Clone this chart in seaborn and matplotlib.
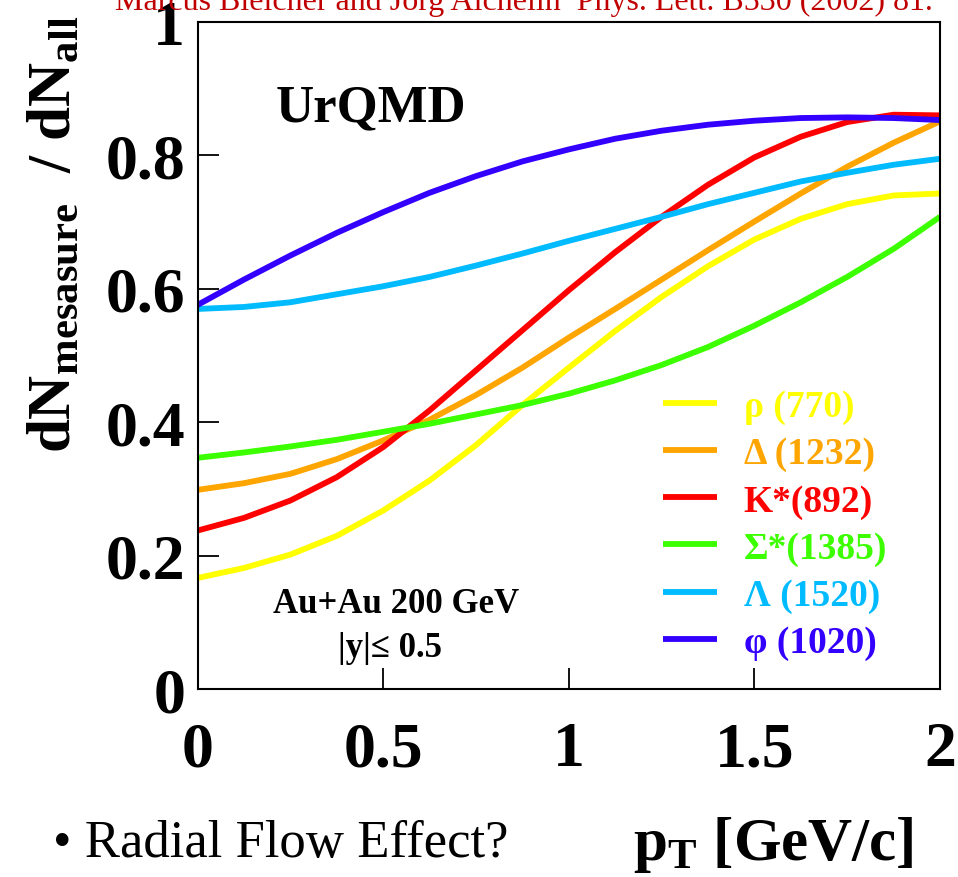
import numpy as np
import pandas as pd
import matplotlib
matplotlib.use("Agg")
import matplotlib.pyplot as plt
from matplotlib.font_manager import FontProperties
import seaborn as sns

# ---- data ----
pt = [0.0, 0.125, 0.25, 0.375, 0.5, 0.625, 0.75, 0.875, 1.0,
      1.125, 1.25, 1.375, 1.5, 1.625, 1.75, 1.875, 2.0]
rho = [0.167, 0.182, 0.202, 0.230, 0.268, 0.313, 0.366, 0.426, 0.482,
       0.537, 0.588, 0.634, 0.674, 0.705, 0.727, 0.740, 0.743]
delta = [0.299, 0.309, 0.323, 0.345, 0.373, 0.404, 0.441, 0.482, 0.527,
         0.570, 0.614, 0.658, 0.701, 0.743, 0.783, 0.819, 0.851]
kstar = [0.238, 0.257, 0.283, 0.318, 0.363, 0.418, 0.478, 0.538, 0.598,
         0.655, 0.708, 0.756, 0.797, 0.828, 0.850, 0.861, 0.860]
sigma = [0.347, 0.355, 0.364, 0.374, 0.386, 0.398, 0.412, 0.426, 0.443,
         0.463, 0.486, 0.513, 0.545, 0.580, 0.618, 0.660, 0.708]
lam = [0.570, 0.573, 0.580, 0.592, 0.604, 0.618, 0.635, 0.653, 0.672,
       0.690, 0.708, 0.727, 0.744, 0.761, 0.774, 0.786, 0.795]
phi = [0.576, 0.614, 0.650, 0.684, 0.715, 0.744, 0.769, 0.791, 0.809,
       0.825, 0.837, 0.846, 0.852, 0.856, 0.857, 0.856, 0.853]

labels = ["ρ (770)", "Δ (1232)", "K*(892)", "Σ*(1385)", "Λ (1520)", "φ (1020)"]
colors = ["#FFFF00", "#FFA500", "#FF0000", "#3CFF00", "#00BBFF", "#3300FF"]
series = [rho, delta, kstar, sigma, lam, phi]

xticks = [0, 0.5, 1, 1.5, 2]
xtick_labels = ["0", "0.5", "1", "1.5", "2"]
yticks = [0, 0.2, 0.4, 0.6, 0.8, 1.0]
ytick_labels = ["0", "0.2", "0.4", "0.6", "0.8", "1"]

# ---- style ----
sns.set_style("ticks")
plt.rcParams["font.family"] = ["Liberation Serif", "DejaVu Serif"]
plt.rcParams["mathtext.fontset"] = "custom"
plt.rcParams["mathtext.rm"] = "Liberation Serif"
plt.rcParams["mathtext.bf"] = "Liberation Serif:bold"
plt.rcParams["mathtext.it"] = "Liberation Serif:italic"
for key in ["text.color", "axes.labelcolor", "xtick.color", "ytick.color",
            "axes.edgecolor"]:
    plt.rcParams[key] = "black"

df = pd.DataFrame({
    "pt": np.tile(pt, len(labels)),
    "ratio": np.concatenate(series),
    "particle": np.repeat(labels, len(pt)),
})

fig = plt.figure(figsize=(9.58, 8.78), dpi=100)
ax = fig.add_axes([0.2062, 0.2136, 0.7750, 0.7603])

sns.lineplot(data=df, x="pt", y="ratio", hue="particle", hue_order=labels,
             palette=dict(zip(labels, colors)), linewidth=4.2, ax=ax,
             legend=True, sort=True, solid_joinstyle="round",
             solid_capstyle="butt")

ax.set_xlim(0, 2)
ax.set_ylim(0, 1)
ax.set_xticks(xticks)
ax.set_xticklabels(xtick_labels)
ax.set_yticks(yticks)
ax.set_yticklabels(ytick_labels)
ax.set_xlabel("")
ax.set_ylabel("")
for s in ax.spines.values():
    s.set_visible(True)
    s.set_linewidth(1.5)
    s.set_color("black")
ax.tick_params(axis="both", direction="in", length=15, width=1.3,
               labelsize=46, top=False, right=False, colors="black")
ax.tick_params(axis="x", pad=23)
ax.tick_params(axis="y", pad=9)
for lab in ax.get_xticklabels() + ax.get_yticklabels():
    lab.set_fontweight("bold")

# legend
handles, labs = ax.get_legend_handles_labels()
leg = ax.legend(handles, labs, loc="center left", bbox_to_anchor=(0.627, 0.247),
                frameon=False, prop=FontProperties(family="Liberation Serif",
                                                   weight="bold", size=27),
                handlelength=1.45, handletextpad=0.7, labelspacing=0.32,
                borderpad=0, borderaxespad=0, labelcolor="linecolor")
for h in leg.get_lines():
    h.set_linewidth(4.2)

# annotations
ax.text(0.209, 0.852, "UrQMD", fontsize=38, fontweight="bold",
        ha="left", va="baseline")
ax.text(0.535, 0.116, "Au+Au 200 GeV", fontsize=25, fontweight="bold",
        ha="center", va="baseline")
ax.text(0.519, 0.050, "|y|≤ 0.5", fontsize=25, fontweight="bold",
        ha="center", va="baseline")

# axis titles
fig.text(0.028, 0.733,
         r"$\mathbf{dN}_{\mathbf{mesasure}}\ \ \mathbf{/\ dN}_{\mathbf{all}}$",
         rotation=90, ha="left", va="center", fontsize=44)
fig.text(633 / 958, 1 - 860 / 878, r"$\mathbf{p}_{\mathbf{T}}$ [GeV/c]",
         fontsize=44, fontweight="bold", ha="left", va="baseline")
fig.text(53 / 958, 1 - 857 / 878, "• Radial Flow Effect?", fontsize=38,
         ha="left", va="baseline")
fig.text(524 / 958, 1 - 10 / 878,
         "Marcus Bleicher and Jörg Aichelin  Phys. Lett. B530 (2002) 81.",
         fontsize=23, color="#C00000", ha="center", va="baseline")

fig.savefig("out.png", dpi=100)
